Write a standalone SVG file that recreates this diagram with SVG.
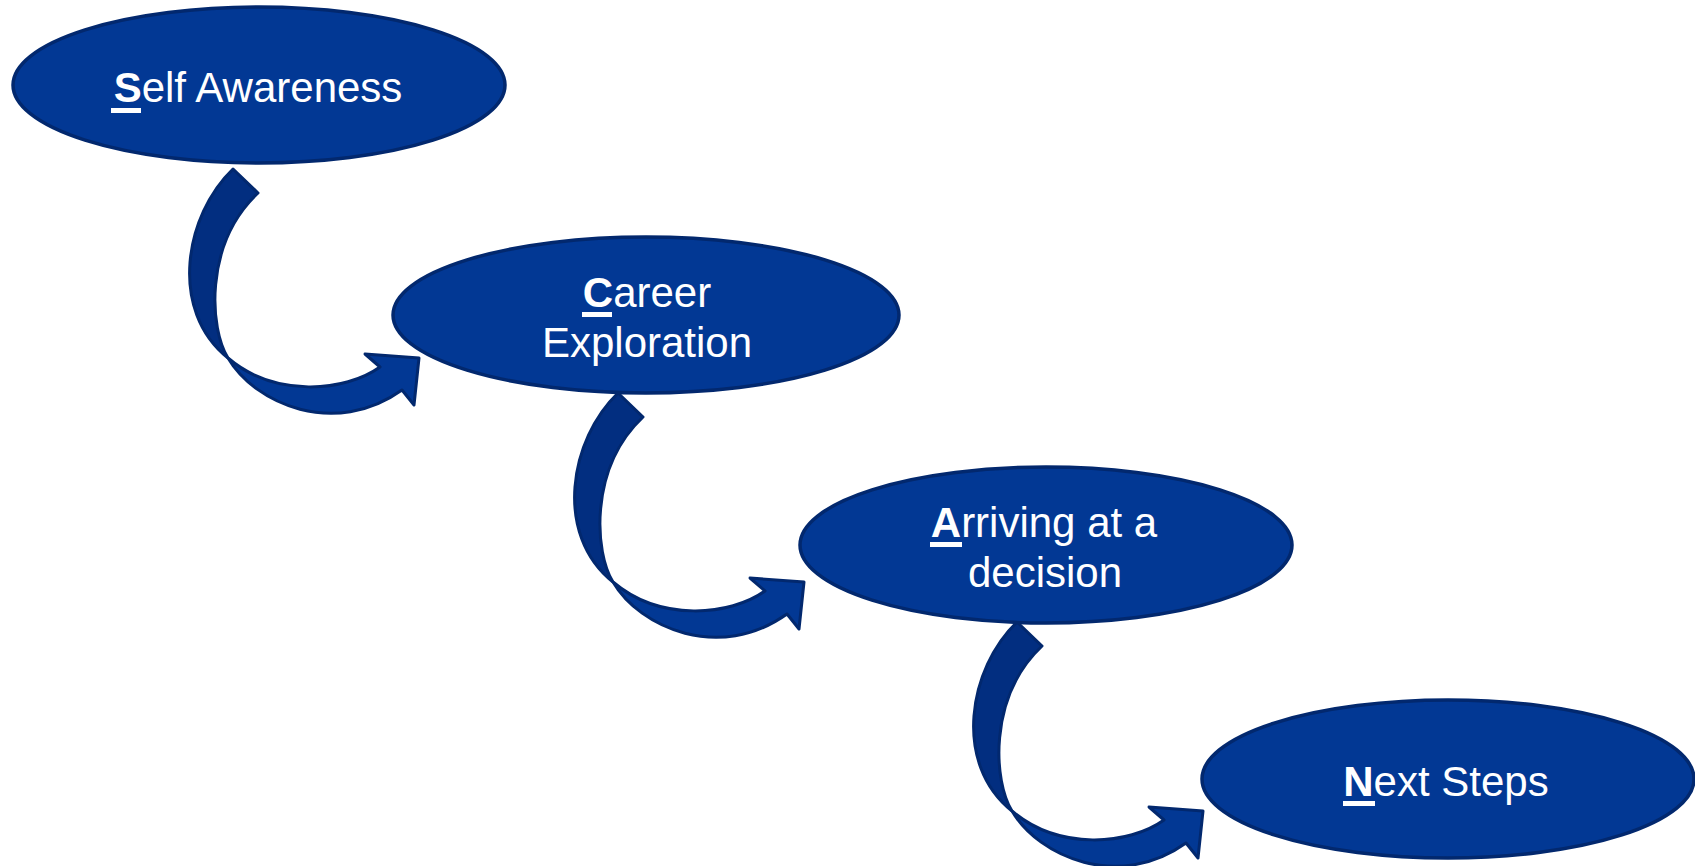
<svg xmlns="http://www.w3.org/2000/svg" width="1695" height="866" viewBox="0 0 1695 866">
<defs>
<style>
.node{fill:#023894;stroke:#02286E;stroke-width:3.5}
.back{fill:#022E80;stroke:#02286E;stroke-width:3;stroke-linejoin:round}
.front{fill:#023894;stroke:#02286E;stroke-width:3;stroke-linejoin:round}
.lbl{font-family:"Liberation Sans",Arial,sans-serif;font-size:42px;fill:#ffffff;text-anchor:middle}
.b{font-weight:bold}
.ul{fill:#ffffff}
</style>
<g id="curvedArrow">
<path class="back" d="M233,169 C185,215 168,310 228,358 C210,330 203,245 258,193 Z"/>
<path class="front" d="M228,358 C255,404 335,438 402,390 L414,405 L419,358 L365,354 L380,367 C345,392 275,398 228,358 Z"/>
</g>
</defs>
<rect width="1695" height="866" fill="#ffffff"/>
<g id="connectors">
<use href="#curvedArrow"/>
<use href="#curvedArrow" transform="translate(385,224)"/>
<use href="#curvedArrow" transform="translate(784,453)"/>
</g>
<g id="node-self-awareness">
<ellipse class="node" cx="259" cy="85" rx="246" ry="78"/>
<text class="lbl" x="258" y="102"><tspan class="b">S</tspan>elf Awareness</text>
<rect class="ul" x="111" y="108" width="30" height="5"/>
</g>
<g id="node-career-exploration">
<ellipse class="node" cx="646" cy="315" rx="253" ry="78"/>
<text class="lbl" x="647" y="307"><tspan class="b">C</tspan>areer</text>
<text class="lbl" x="647" y="357">Exploration</text>
<rect class="ul" x="582" y="312" width="30" height="5"/>
</g>
<g id="node-arriving">
<ellipse class="node" cx="1046" cy="545" rx="246" ry="78"/>
<text class="lbl" x="1044" y="537"><tspan class="b">A</tspan>rriving at a</text>
<text class="lbl" x="1045" y="587">decision</text>
<rect class="ul" x="930" y="542" width="32" height="5"/>
</g>
<g id="node-next-steps">
<ellipse class="node" cx="1448" cy="779" rx="246" ry="79"/>
<text class="lbl" x="1446" y="796"><tspan class="b">N</tspan>ext Steps</text>
<rect class="ul" x="1343" y="801" width="32" height="5"/>
</g>
</svg>
